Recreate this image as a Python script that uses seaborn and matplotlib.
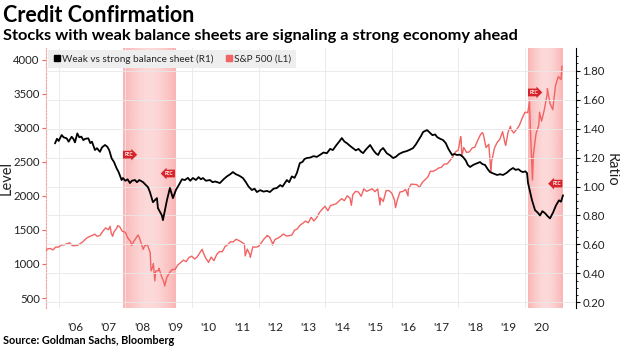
import numpy as np
import pandas as pd
import matplotlib
matplotlib.use("Agg")
import matplotlib.pyplot as plt
import seaborn as sns
from matplotlib.lines import Line2D
from matplotlib.ticker import FixedLocator, FuncFormatter

sns.set_theme(style="white")
plt.rcParams['font.family'] = ['Lato', 'DejaVu Sans']

# ---------------- data ----------------
# S&P 500 (left axis) : month-end levels from Aug 2005 to Jan 2021
sp_first_month_end = "2005-08-31"
sp_monthly = [
    1220, 1229, 1207, 1249, 1248,
    1280, 1281, 1295, 1311, 1270, 1270, 1277, 1304, 1336, 1378, 1401, 1418,
    1438, 1407, 1421, 1482, 1531, 1503, 1455, 1474, 1527, 1549, 1481, 1468,
    1379, 1331, 1323, 1386, 1400, 1280, 1267, 1283, 1166, 969, 896, 903,
    826, 735, 798, 873, 919, 919, 987, 1021, 1057, 1036, 1096, 1115,
    1074, 1104, 1169, 1187, 1089, 1031, 1102, 1049, 1141, 1183, 1181, 1258,
    1286, 1327, 1326, 1364, 1345, 1321, 1292, 1219, 1131, 1253, 1247, 1258,
    1312, 1366, 1408, 1398, 1310, 1362, 1379, 1407, 1441, 1412, 1416, 1426,
    1498, 1515, 1569, 1598, 1631, 1606, 1686, 1633, 1682, 1757, 1806, 1848,
    1783, 1859, 1872, 1884, 1924, 1960, 1931, 2003, 1972, 2018, 2068, 2059,
    1995, 2105, 2068, 2086, 2107, 2063, 2104, 1972, 1920, 2079, 2080, 2044,
    1940, 1932, 2060, 2065, 2097, 2099, 2174, 2171, 2168, 2126, 2199, 2239,
    2279, 2364, 2363, 2384, 2412, 2423, 2470, 2472, 2519, 2575, 2648, 2674,
    2824, 2714, 2641, 2648, 2705, 2718, 2816, 2902, 2914, 2712, 2760, 2507,
    2704, 2784, 2834, 2946, 2752, 2942, 2980, 2926, 2977, 3038, 3141, 3231,
    3226, 2954, 2585, 2912, 3044, 3100, 3271, 3500, 3363, 3270, 3622, 3756,
    3714,
]
# intra-month extremes visible on the chart
sp_extra_dates = [
    "2005-08-12", "2007-07-19", "2007-08-15", "2007-10-09", "2008-03-10",
    "2008-05-19", "2008-07-15", "2008-10-10", "2008-11-04", "2008-11-20",
    "2009-01-06", "2009-03-09", "2010-04-23", "2010-07-02", "2011-08-08",
    "2011-10-03", "2012-04-02", "2012-06-01", "2014-10-15", "2015-08-25",
    "2016-02-11", "2016-06-27", "2018-01-26", "2018-02-08", "2018-09-20",
    "2018-12-24", "2019-06-03", "2019-07-26", "2020-02-19", "2020-03-23",
    "2020-06-08", "2020-09-02", "2021-02-10",
]
sp_extra_vals = [
    1190, 1553, 1407, 1565, 1273,
    1426, 1214, 899, 1005, 752,
    935, 677, 1217, 1022, 1119,
    1099, 1419, 1278, 1862, 1868,
    1829, 2001, 2873, 2581, 2931,
    2351, 2744, 3026, 3386, 2237,
    3232, 3580, 3910,
]

# Weak vs strong balance sheet ratio (right axis), decimal years
ratio_t = [
    2005.89, 2005.95, 2006.00, 2006.09, 2006.15, 2006.24, 2006.30, 2006.39,
    2006.44, 2006.49, 2006.56, 2006.62, 2006.68, 2006.74, 2006.80, 2006.89,
    2006.95, 2007.00, 2007.09, 2007.15, 2007.24, 2007.30, 2007.39, 2007.46,
    2007.52, 2007.59, 2007.66, 2007.74, 2007.80, 2007.89, 2007.93, 2008.00,
    2008.07, 2008.14, 2008.20, 2008.29, 2008.35, 2008.42, 2008.53, 2008.60,
    2008.68, 2008.74, 2008.83, 2008.95, 2008.98, 2009.10, 2009.13, 2009.25,
    2009.34, 2009.43, 2009.52, 2009.64, 2009.70, 2009.79, 2009.88, 2009.95,
    2010.03, 2010.12, 2010.20, 2010.27, 2010.33, 2010.42, 2010.54, 2010.62,
    2010.70, 2010.84, 2010.95, 2011.05, 2011.15, 2011.23, 2011.32, 2011.42,
    2011.53, 2011.62, 2011.70, 2011.80, 2011.88, 2011.95, 2012.05, 2012.15,
    2012.25, 2012.34, 2012.45, 2012.55, 2012.65, 2012.72, 2012.85, 2012.92,
    2013.00, 2013.08, 2013.15, 2013.24, 2013.32, 2013.38, 2013.45, 2013.55,
    2013.65, 2013.75, 2013.84, 2013.95, 2014.05, 2014.15, 2014.23, 2014.35,
    2014.42, 2014.50, 2014.58, 2014.65, 2014.75, 2014.83, 2014.92, 2015.00,
    2015.08, 2015.14, 2015.22, 2015.30, 2015.35, 2015.45, 2015.52, 2015.59,
    2015.66, 2015.74, 2015.85, 2015.95, 2016.04, 2016.12, 2016.22, 2016.34,
    2016.45, 2016.55, 2016.64, 2016.72, 2016.80, 2016.88, 2016.94, 2017.06,
    2017.15, 2017.22, 2017.30, 2017.36, 2017.45, 2017.54, 2017.62, 2017.70,
    2017.81, 2017.88, 2017.96, 2018.05, 2018.14, 2018.22, 2018.28, 2018.35,
    2018.45, 2018.55, 2018.65, 2018.72, 2018.80, 2018.88, 2018.95, 2019.05,
    2019.16, 2019.25, 2019.34, 2019.45, 2019.55, 2019.64, 2019.72, 2019.80,
    2019.88, 2019.94, 2020.01, 2020.06, 2020.09, 2020.21, 2020.30, 2020.38,
    2020.45, 2020.52, 2020.60, 2020.68, 2020.75, 2020.84, 2020.93, 2021.02,
    2021.08, 2021.14,
]
ratio_v = [
    1.298, 1.330, 1.315, 1.356, 1.340, 1.333, 1.310, 1.344,
    1.330, 1.305, 1.367, 1.340, 1.345, 1.321, 1.330, 1.333,
    1.300, 1.310, 1.252, 1.265, 1.240, 1.270, 1.287, 1.275,
    1.250, 1.195, 1.170, 1.126, 1.100, 1.045, 1.059, 1.040,
    1.050, 1.024, 1.040, 1.045, 1.030, 1.045, 1.031, 1.015,
    0.996, 0.962, 0.892, 0.920, 0.851, 0.800, 0.768, 0.905,
    0.990, 0.920, 0.976, 1.024, 1.050, 1.045, 1.060, 1.040,
    1.059, 1.045, 1.065, 1.050, 1.059, 1.040, 1.045, 1.030,
    1.035, 1.024, 1.050, 1.070, 1.085, 1.100, 1.085, 1.075,
    1.059, 1.030, 1.000, 0.976, 0.985, 0.962, 0.975, 0.965,
    0.970, 0.962, 0.985, 0.990, 1.010, 1.000, 1.045, 1.030,
    1.070, 1.060, 1.093, 1.162, 1.170, 1.190, 1.197, 1.200,
    1.210, 1.205, 1.218, 1.235, 1.230, 1.260, 1.252, 1.290,
    1.310, 1.335, 1.310, 1.300, 1.280, 1.266, 1.250, 1.260,
    1.240, 1.231, 1.255, 1.275, 1.287, 1.250, 1.230, 1.218,
    1.250, 1.266, 1.230, 1.215, 1.197, 1.205, 1.225, 1.238,
    1.245, 1.255, 1.266, 1.290, 1.320, 1.350, 1.377, 1.390,
    1.370, 1.355, 1.360, 1.342, 1.330, 1.321, 1.300, 1.260,
    1.218, 1.225, 1.218, 1.220, 1.204, 1.180, 1.150, 1.135,
    1.150, 1.160, 1.169, 1.155, 1.149, 1.120, 1.100, 1.090,
    1.080, 1.085, 1.080, 1.095, 1.115, 1.128, 1.115, 1.120,
    1.105, 1.100, 1.105, 1.093, 1.024, 0.905, 0.837, 0.820,
    0.800, 0.830, 0.816, 0.795, 0.780, 0.820, 0.870, 0.905,
    0.895, 0.940,
]

rec_start = [2007.92, 2020.08]
rec_end = [2009.50, 2021.13]
rec_start_label_level = [1.22, 1.65]   # ratio-axis level of the start badge
rec_end_label_level = [1.09, 1.02]     # ratio-axis level of the end badge

year_ticks = [2006.5 + i for i in range(15)]
year_labels = ["'06", "'07", "'08", "'09", "'10", "'11", "'12", "'13",
               "'14", "'15", "'16", "'17", "'18", "'19", "'20"]
level_ticks = [500, 1000, 1500, 2000, 2500, 3000, 3500, 4000]
ratio_ticks = [0.2, 0.4, 0.6, 0.8, 1.0, 1.2, 1.4, 1.6, 1.8]

# ---------------- frames ----------------
def dec_year(d):
    d = pd.to_datetime(pd.Series(d))
    return d.dt.year + (d.dt.dayofyear - 1) / 365.25

sp_dates = pd.date_range(sp_first_month_end, periods=len(sp_monthly), freq="ME")
sp_df = pd.concat([
    pd.DataFrame({"date": sp_dates, "v": sp_monthly}),
    pd.DataFrame({"date": pd.to_datetime(sp_extra_dates), "v": sp_extra_vals}),
]).sort_values("date").reset_index(drop=True)
sp_df["t"] = dec_year(sp_df["date"]).values

ratio_df = pd.DataFrame({"t": ratio_t, "v": ratio_v})

RED = "#f26363"
XL = (2005.62, 2021.53)
YL = (353, 4176)
YR = (0.161, 1.957)

# ---------------- figure ----------------
fig = plt.figure(figsize=(6.2, 3.48), dpi=100)
ax = fig.add_axes([46 / 620, 40 / 348, 530 / 620, 260 / 348])
ax2 = ax.twinx()

# recession bands with a soft gradient
n = 64
g = np.abs(np.linspace(-1, 1, n)) ** 1.6
rgba = np.zeros((1, n, 4))
rgba[..., 0] = 245 / 255
rgba[..., 1] = 100 / 255
rgba[..., 2] = 100 / 255
rgba[..., 3] = 0.24 + 0.24 * g
for a, b in zip(rec_start, rec_end):
    ax.imshow(rgba, extent=[a, b, YL[0], YL[1]], aspect="auto",
              interpolation="bilinear", zorder=0)

sns.lineplot(data=sp_df, x="t", y="v", ax=ax, color=RED, lw=1.0,
             estimator=None, sort=False, zorder=3)
sns.lineplot(data=ratio_df, x="t", y="v", ax=ax2, color="black", lw=1.3,
             estimator=None, sort=False, zorder=3)

ax.set_xlim(*XL)
ax.set_ylim(*YL)
ax2.set_ylim(*YR)
ax.set_xlabel("")
ax.set_ylabel("")
ax2.set_xlabel("")
ax2.set_ylabel("")

# x axis
ax.xaxis.set_major_locator(FixedLocator(year_ticks))
ax.set_xticklabels(year_labels)
ax.xaxis.set_minor_locator(FixedLocator(list(range(2006, 2021, 2))))
ax.tick_params(axis="x", which="both", length=0, pad=10, labelsize=8.5,
               labelcolor="#222222")
ax.grid(False)
ax.xaxis.grid(True, which="minor", color="#e8e8e8", lw=0.6)
ax.set_axisbelow(True)

# left axis
ax.yaxis.set_major_locator(FixedLocator(level_ticks))
ax.tick_params(axis="y", which="major", length=3, width=0.8, color=RED,
               labelsize=8.2, labelcolor="#222222", pad=1.5)
for s in ["top", "bottom", "right"]:
    ax.spines[s].set_visible(False)
ax.spines["left"].set_color("#f4a0a0")
ax.spines["left"].set_linestyle((0, (1.5, 1.5)))
ax.spines["left"].set_linewidth(0.8)

# right axis
ax2.yaxis.set_major_locator(FixedLocator(ratio_ticks))
ax2.yaxis.set_minor_locator(FixedLocator(list(np.arange(0.2, 1.95, 0.05))))
ax2.yaxis.set_major_formatter(FuncFormatter(lambda v, p: f"{v:.2f}"))
ax2.tick_params(axis="y", which="major", length=3, width=0.8, color="black",
                labelsize=8.2, labelcolor="#222222", pad=1.5)
ax2.tick_params(axis="y", which="minor", length=1.5, width=0.6, color="black")
for s in ["top", "bottom", "left"]:
    ax2.spines[s].set_visible(False)
ax2.spines["right"].set_color("black")
ax2.spines["right"].set_linewidth(0.8)
ax2.grid(False)
ax2.yaxis.grid(True, which="major", color="#e8e8e8", lw=0.6)

# recession badges
for a, lv in zip(rec_start, rec_start_label_level):
    ax2.text(a + 0.05, lv, "REC", fontsize=3.3, color="white", fontweight="bold",
             ha="left", va="center", zorder=6,
             bbox=dict(boxstyle="rarrow,pad=0.3", fc="#d8232a", ec="none"))
for b, lv in zip(rec_end, rec_end_label_level):
    ax2.text(b - 0.05, lv, "REC", fontsize=3.3, color="white", fontweight="bold",
             ha="right", va="center", zorder=6,
             bbox=dict(boxstyle="larrow,pad=0.3", fc="#d8232a", ec="none"))

# legend
handles = [
    Line2D([], [], marker="s", ls="", color="black", markersize=4.5,
           label="Weak vs strong balance sheet (R1)"),
    Line2D([], [], marker="s", ls="", color=RED, markersize=4.5,
           label="S&P 500 (L1)"),
]
leg = ax2.legend(handles=handles, loc="upper left", bbox_to_anchor=(0.0, 1.0),
                 ncol=2, frameon=True, facecolor="#eeeeee", edgecolor="none",
                 framealpha=1, fancybox=False, fontsize=7.2, handletextpad=0.05,
                 columnspacing=1.0, borderpad=0.4, handlelength=1.0,
                 borderaxespad=0.2)
leg.set_zorder(7)

# texts
fig.text(3 / 620, 1 - 22 / 348, "Credit Confirmation", fontsize=15.5,
         fontweight="bold", va="baseline", ha="left", color="black")
fig.text(3 / 620, 1 - 40 / 348,
         "Stocks with weak balance sheets are signaling a strong economy ahead",
         fontsize=11.8, fontweight="bold", va="baseline", ha="left", color="black")
fig.text(3 / 620, 1 - 344 / 348, "Source: Goldman Sachs, Bloomberg",
         fontsize=7.8, fontweight="bold", va="baseline", ha="left", color="black")
fig.text(7 / 620, 1 - 178 / 348, "Level", fontsize=10.5, rotation=90,
         va="center", ha="center", color="#222222")
fig.text(612 / 620, 1 - 170 / 348, "Ratio", fontsize=10.5, rotation=270,
         va="center", ha="center", color="#222222")

fig.savefig("out.png", dpi=100)
